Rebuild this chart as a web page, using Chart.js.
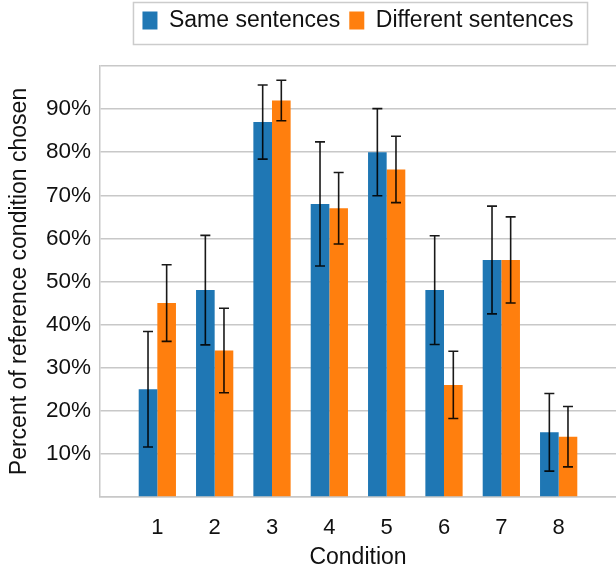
<!DOCTYPE html>
<html>
<head>
<meta charset="utf-8">
<script src="https://cdn.jsdelivr.net/npm/chart.js@4"></script>
<style>
  html, body { margin: 0; padding: 0; background: #fff; overflow: hidden; }
  #wrap { width: 616px; height: 571px; position: relative; }
</style>
</head>
<body>
<div id="wrap"><canvas id="c"></canvas></div>
<script>
const categories = ['1', '2', '3', '4', '5', '6', '7', '8'];
const sameValues = [25, 48, 87, 68, 80, 48, 55, 15];
const sameErrors = [13.4, 12.7, 8.6, 14.4, 10.1, 12.6, 12.5, 9];
const diffValues = [45, 34, 92, 67, 76, 26, 55, 14];
const diffErrors = [8.9, 9.8, 4.7, 8.3, 7.7, 7.8, 10, 7];
const yTicks = [10, 20, 30, 40, 50, 60, 70, 80, 90];

const FONT = "'Liberation Sans', Arial, sans-serif";
const labels = [''].concat(categories, ['']);
const pad = arr => [null].concat(arr, [null]);

const errorBars = {
  id: 'errorBars',
  afterDatasetsDraw(chart) {
    const ctx = chart.ctx;
    const y = chart.scales.y;
    const errs = [pad(sameErrors), pad(diffErrors)];
    ctx.save();
    ctx.strokeStyle = 'rgba(0,0,0,0.9)';
    ctx.lineWidth = 1.6;
    chart.data.datasets.forEach((ds, di) => {
      const meta = chart.getDatasetMeta(di);
      meta.data.forEach((bar, i) => {
        const v = ds.data[i];
        const e = errs[di][i];
        if (v == null || e == null) return;
        const x = bar.x;
        const yt = y.getPixelForValue(v + e);
        const yb = y.getPixelForValue(v - e);
        const cw = 5;
        ctx.beginPath();
        ctx.moveTo(x, yt); ctx.lineTo(x, yb);
        ctx.moveTo(x - cw, yt); ctx.lineTo(x + cw, yt);
        ctx.moveTo(x - cw, yb); ctx.lineTo(x + cw, yb);
        ctx.stroke();
      });
    });
    ctx.restore();
  }
};

const legendFrame = {
  id: 'legendFrame',
  beforeInit(chart) {
    const lg = chart.legend;
    const orig = lg.fit;
    lg.fit = function () { orig.call(this); this.height = 66; };
  },
  afterDraw(chart) {
    const boxes = chart.legend.legendHitBoxes;
    if (!boxes || !boxes.length) return;
    const l = boxes[0].left - 9;
    const last = boxes[boxes.length - 1];
    const r = last.left + last.width + 14;
    const ctx = chart.ctx;
    ctx.save();
    ctx.strokeStyle = '#cccccc';
    ctx.lineWidth = 1.5;
    ctx.strokeRect(l, 2.5, r - l, 42);
    ctx.restore();
  }
};

new Chart(document.getElementById('c'), {
  type: 'bar',
  data: {
    labels: labels,
    datasets: [
      { label: 'Same sentences', data: pad(sameValues), backgroundColor: '#1f77b4', borderWidth: 0 },
      { label: 'Different sentences', data: pad(diffValues), backgroundColor: '#ff7f0e', borderWidth: 0 }
    ]
  },
  options: {
    responsive: true,
    maintainAspectRatio: false,
    animation: false,
    devicePixelRatio: 1,
    layout: { padding: 0 },
    datasets: { bar: { categoryPercentage: 0.65, barPercentage: 1.0 } },
    plugins: {
      tooltip: { enabled: false },
      legend: {
        position: 'top',
        fullSize: false,
        labels: {
          boxWidth: 15,
          boxHeight: 18,
          padding: 9,
          color: '#111',
          font: { family: FONT, size: 23 }
        }
      }
    },
    scales: {
      x: {
        offset: false,
        afterFit(s) { s.height = 74; s.paddingLeft = 0; s.paddingRight = 0; },
        grid: { display: false, drawTicks: false },
        border: { display: true, color: '#c8c8c8', width: 1.5 },
        ticks: {
          autoSkip: false,
          maxRotation: 0,
          padding: 18,
          color: '#111',
          font: { family: FONT, size: 22 }
        },
        title: {
          display: true,
          text: 'Condition',
          color: '#111',
          font: { family: FONT, size: 23 },
          padding: { top: 2, bottom: 0 }
        }
      },
      y: {
        min: 0,
        max: 100,
        afterFit(s) { s.width = 100; },
        afterBuildTicks(s) { s.ticks = [0].concat(yTicks, [100]).map(v => ({ value: v })); },
        grid: { color: '#c8c8c8', lineWidth: 1.5, drawTicks: false },
        border: { display: true, color: '#c8c8c8', width: 1.5 },
        ticks: {
          padding: 9,
          color: '#111',
          font: { family: FONT, size: 22.5 },
          callback: v => (yTicks.includes(v) ? v + '%' : '')
        },
        title: {
          display: true,
          text: 'Percent of reference condition chosen',
          color: '#111',
          font: { family: FONT, size: 23 },
          padding: { top: 6, bottom: 0 }
        }
      }
    }
  },
  plugins: [errorBars, legendFrame]
});
</script>
</body>
</html>
